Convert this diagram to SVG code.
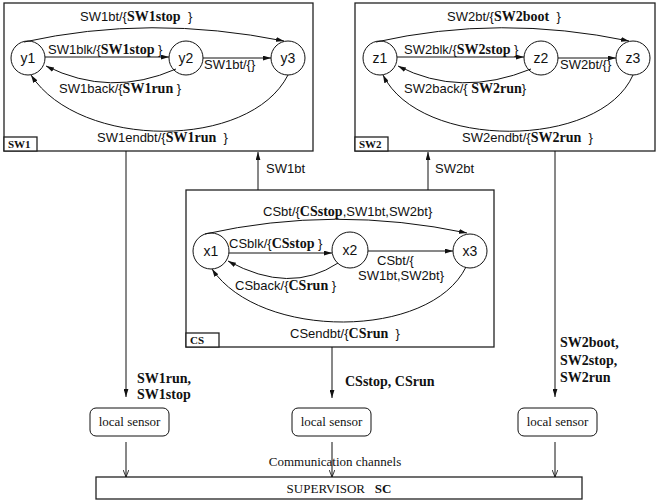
<svg xmlns="http://www.w3.org/2000/svg" width="659" height="504" viewBox="0 0 659 504">
<style>
.box{fill:#fff;stroke:#222;stroke-width:1.3}
.st{fill:#fff;stroke:#111;stroke-width:1}
.ln{fill:none;stroke:#111;stroke-width:1}
.s{font-family:"Liberation Sans",Arial,sans-serif;font-size:13px;fill:#111}
.b{font-family:"Liberation Serif","Times New Roman",serif;font-weight:bold;font-size:14px}
.bs{font-family:"Liberation Serif","Times New Roman",serif;font-weight:bold;font-size:14px;fill:#111}
.sr{font-family:"Liberation Serif","Times New Roman",serif;font-size:13px;fill:#111}
.tag{font-family:"Liberation Serif","Times New Roman",serif;font-weight:bold;font-size:11px;fill:#111}
.nm{font-family:"Liberation Sans",Arial,sans-serif;font-size:14px;fill:#111;text-anchor:middle}
</style>
<defs>
<marker id="a" viewBox="0 0 10 6" refX="10" refY="3" markerWidth="8" markerHeight="5" markerUnits="userSpaceOnUse" orient="auto"><path d="M0,0 L10,3 L0,6 Z" fill="#111"/></marker>
<marker id="o" viewBox="0 0 10 8" refX="10" refY="4" markerWidth="7" markerHeight="6" markerUnits="userSpaceOnUse" orient="auto"><path d="M0,0 L10,4 L0,8" fill="none" stroke="#111" stroke-width="1.2"/></marker>
</defs>

<g id="SW1">
<rect class="box" x="4" y="3" width="309" height="148"/>
<rect class="box" x="4" y="137" width="33" height="14"/>
<text class="tag" x="8" y="148">SW1</text>
<g id="y1"><circle class="st" cx="28" cy="58" r="17"/><text class="nm" x="28" y="63">y1</text></g>
<g id="y2"><circle class="st" cx="186" cy="58" r="17"/><text class="nm" x="186" y="63">y2</text></g>
<g id="y3"><circle class="st" cx="288" cy="58" r="17"/><text class="nm" x="288" y="63">y3</text></g>
<path class="ln" d="M24 42 Q150 14 284 41" marker-end="url(#a)"/>
<path class="ln" d="M45 57 L169 57" marker-end="url(#a)"/>
<path class="ln" d="M203 58 L271 58" marker-end="url(#a)"/>
<path class="ln" d="M176 69 Q110 98 46 66" marker-end="url(#a)"/>
<path class="ln" d="M288 75 C250 150 80 150 31 75" marker-end="url(#a)"/>
<text class="s" x="80" y="21">SW1bt/{<tspan class="b">SW1stop</tspan>&#160;&#160;}</text>
<text class="s" x="48" y="54">SW1blk/{<tspan class="b">SW1stop</tspan>&#160;}</text>
<text class="s" x="204" y="69">SW1bt/{}</text>
<text class="s" x="59" y="93">SW1back/{<tspan class="b">SW1run</tspan>&#160;}</text>
<text class="s" x="97" y="142">SW1endbt/{<tspan class="b">SW1run</tspan>&#160;&#160;}</text>
</g>

<g id="SW2">
<rect class="box" x="355" y="3" width="300" height="148"/>
<rect class="box" x="355" y="137" width="33" height="14"/>
<text class="tag" x="359" y="148">SW2</text>
<g id="z1"><circle class="st" cx="380" cy="58" r="17"/><text class="nm" x="380" y="63">z1</text></g>
<g id="z2"><circle class="st" cx="541" cy="58" r="17"/><text class="nm" x="541" y="63">z2</text></g>
<g id="z3"><circle class="st" cx="633" cy="58" r="17"/><text class="nm" x="633" y="63">z3</text></g>
<path class="ln" d="M376 42 Q500 14 629 41" marker-end="url(#a)"/>
<path class="ln" d="M397 57 L524 57" marker-end="url(#a)"/>
<path class="ln" d="M558 58 L616 58" marker-end="url(#a)"/>
<path class="ln" d="M531 69 Q460 98 398 66" marker-end="url(#a)"/>
<path class="ln" d="M633 75 C600 150 420 150 383 75" marker-end="url(#a)"/>
<text class="s" x="447" y="21">SW2bt/{<tspan class="b">SW2boot</tspan>&#160;&#160;}</text>
<text class="s" x="404" y="54">SW2blk/{<tspan class="b">SW2stop</tspan>&#160;}</text>
<text class="s" x="560" y="69">SW2bt/{}</text>
<text class="s" x="404" y="93">SW2back/{&#160;<tspan class="b">SW2run</tspan>}</text>
<text class="s" x="462" y="142">SW2endbt/{<tspan class="b">SW2run</tspan>&#160;&#160;}</text>
</g>

<g id="CS">
<rect class="box" x="186" y="190" width="308" height="157"/>
<rect class="box" x="186" y="333" width="33" height="14"/>
<text class="tag" x="190" y="344">CS</text>
<g id="x1"><circle class="st" cx="211" cy="251" r="18"/><text class="nm" x="211" y="256">x1</text></g>
<g id="x2"><circle class="st" cx="350" cy="250" r="18"/><text class="nm" x="350" y="255">x2</text></g>
<g id="x3"><circle class="st" cx="470" cy="251" r="17"/><text class="nm" x="470" y="256">x3</text></g>
<path class="ln" d="M205 234 Q335 205 467 233" marker-end="url(#a)"/>
<path class="ln" d="M229 253 L332 253" marker-end="url(#a)"/>
<path class="ln" d="M368 251 L453 251" marker-end="url(#a)"/>
<path class="ln" d="M338 263 Q290 295 228 261" marker-end="url(#a)"/>
<path class="ln" d="M466 267 C430 340 260 340 212 269" marker-end="url(#a)"/>
<text class="s" x="263" y="216">CSbt/{<tspan class="b">CSstop</tspan>,SW1bt,SW2bt}</text>
<text class="s" x="229" y="248">CSblk/{<tspan class="b">CSstop</tspan>&#160;}</text>
<text class="s" x="377" y="265">CSbt/{</text>
<text class="s" x="358" y="280">SW1bt,SW2bt}</text>
<text class="s" x="235" y="290">CSback/{<tspan class="b">CSrun</tspan>&#160;}</text>
<text class="s" x="290" y="338">CSendbt/{<tspan class="b">CSrun</tspan>&#160;&#160;}</text>
</g>

<g id="sensor1"><rect class="st" x="90" y="408" width="79" height="28" rx="6"/><text class="sr" x="129.5" y="426" text-anchor="middle">local sensor</text></g>
<g id="sensor2"><rect class="st" x="292" y="408" width="79" height="28" rx="6"/><text class="sr" x="331.5" y="426" text-anchor="middle">local sensor</text></g>
<g id="sensor3"><rect class="st" x="518" y="408" width="79" height="28" rx="6"/><text class="sr" x="557.5" y="426" text-anchor="middle">local sensor</text></g>
<g id="SC"><rect class="box" x="96" y="477" width="486" height="22"/><text class="sr" x="339" y="493" text-anchor="middle" font-size="12">SUPERVISOR&#160;&#160;&#160;<tspan font-weight="bold">SC</tspan></text></g>

<g id="connectors">
<path class="ln" d="M126 151 L126 397" marker-end="url(#a)"/>
<path class="ln" d="M258 190 L258 152" marker-end="url(#a)"/>
<path class="ln" d="M428 190 L428 152" marker-end="url(#a)"/>
<path class="ln" d="M555 151 L555 397" marker-end="url(#a)"/>
<path class="ln" d="M332 347 L332 398" marker-end="url(#a)"/>
<path class="ln" d="M126 442 L126 477" marker-end="url(#o)"/>
<path class="ln" d="M332 442 L332 477" marker-end="url(#o)"/>
<path class="ln" d="M555 442 L555 477" marker-end="url(#o)"/>
<text class="s" x="266" y="173">SW1bt</text>
<text class="s" x="435" y="173">SW2bt</text>
<text class="bs" x="137" y="383">SW1run,</text>
<text class="bs" x="137" y="399">SW1stop</text>
<text class="bs" x="345" y="386">CSstop, CSrun</text>
<text class="bs" x="560" y="347">SW2boot,</text>
<text class="bs" x="560" y="365">SW2stop,</text>
<text class="bs" x="560" y="382">SW2run</text>
<text class="sr" x="335" y="466" text-anchor="middle" font-size="12">Communication channels</text>
</g>
</svg>
